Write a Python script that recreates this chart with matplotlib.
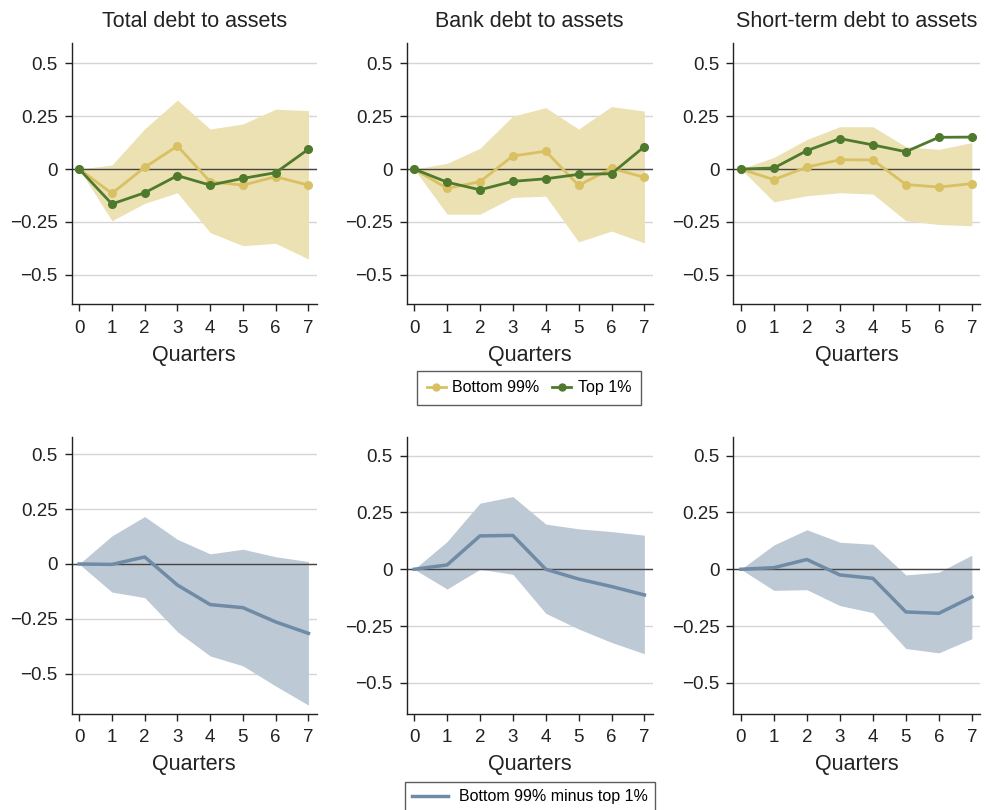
import matplotlib
matplotlib.use("Agg")
import matplotlib.pyplot as plt
from matplotlib.lines import Line2D

plt.rcParams['font.family'] = ['Liberation Sans', 'DejaVu Sans']

quarters = [0, 1, 2, 3, 4, 5, 6, 7]
titles = ["Total debt to assets", "Bank debt to assets", "Short-term debt to assets"]

# Top row: Bottom 99% / Top 1% with confidence band (of bottom 99%)
band_hi_top = [
    [0, 0.019, 0.190, 0.326, 0.189, 0.213, 0.283, 0.276],
    [0, 0.027, 0.098, 0.250, 0.290, 0.189, 0.295, 0.274],
    [0, 0.055, 0.140, 0.200, 0.200, 0.106, 0.093, 0.125],
]
band_lo_top = [
    [0, -0.244, -0.162, -0.112, -0.300, -0.362, -0.351, -0.425],
    [0, -0.213, -0.213, -0.134, -0.128, -0.344, -0.293, -0.349],
    [0, -0.155, -0.126, -0.112, -0.118, -0.244, -0.262, -0.268],
]
bottom99 = [
    [0, -0.115, 0.008, 0.109, -0.060, -0.076, -0.036, -0.076],
    [0, -0.091, -0.060, 0.062, 0.084, -0.077, 0.003, -0.039],
    [0, -0.050, 0.009, 0.044, 0.043, -0.073, -0.085, -0.069],
]
top1 = [
    [0, -0.165, -0.112, -0.031, -0.076, -0.044, -0.017, 0.094],
    [0, -0.062, -0.098, -0.058, -0.046, -0.025, -0.022, 0.106],
    [0, 0.005, 0.087, 0.144, 0.114, 0.082, 0.150, 0.151],
]

# Bottom row: difference with confidence band
diff = [
    [0, -0.002, 0.032, -0.096, -0.185, -0.199, -0.264, -0.316],
    [0, 0.019, 0.147, 0.149, 0.000, -0.043, -0.076, -0.113],
    [0, 0.007, 0.043, -0.025, -0.040, -0.188, -0.194, -0.122],
]
diff_hi = [
    [0, 0.128, 0.216, 0.112, 0.046, 0.067, 0.033, 0.011],
    [0, 0.122, 0.291, 0.320, 0.199, 0.178, 0.166, 0.150],
    [0, 0.107, 0.174, 0.119, 0.110, -0.025, -0.013, 0.062],
]
diff_lo = [
    [0, -0.128, -0.153, -0.309, -0.419, -0.464, -0.556, -0.643],
    [0, -0.087, 0.000, -0.022, -0.194, -0.263, -0.322, -0.372],
    [0, -0.093, -0.090, -0.160, -0.191, -0.349, -0.368, -0.306],
]

yticks = [0.5, 0.25, 0, -0.25, -0.5]
yticklabels = ["0.5", "0.25", "0", "\u22120.25", "\u22120.5"]

C_BAND = "#ECE1B2"
C_GOLD = "#D9C163"
C_GREEN = "#4F7A2E"
C_BAND2 = "#BDC9D5"
C_LINE2 = "#6F8BA6"

fig = plt.figure(figsize=(9.87, 8.10), dpi=100)

lefts = [0.0726, 0.412, 0.743]
widths = [0.2482, 0.2492, 0.250]
top_row = (0.6243, 0.3230)
bot_row = (0.1189, 0.3412)
top_ylim = (-0.639, 0.597)
bot_ylims = [(-0.682, 0.577), (-0.636, 0.581), (-0.636, 0.581)]


def style(ax, ylim):
    ax.set_xlim(-0.23, 7.25)
    ax.set_ylim(*ylim)
    ax.set_xticks(quarters)
    ax.set_xticklabels([str(q) for q in quarters])
    ax.set_yticks(yticks)
    ax.set_yticklabels(yticklabels)
    for s in ["top", "right"]:
        ax.spines[s].set_visible(False)
    for s in ["left", "bottom"]:
        ax.spines[s].set_color("#222222")
        ax.spines[s].set_linewidth(1.0)
    ax.tick_params(axis="both", direction="out", length=5, width=1.0,
                   color="#222222", labelsize=13.5, labelcolor="#222222")
    ax.tick_params(axis="x", pad=6)
    ax.tick_params(axis="y", pad=5)
    ax.yaxis.grid(True, color="#D5D5D5", linewidth=1.0)
    ax.set_axisbelow(True)
    ax.axhline(0, color="#444444", linewidth=1.0, zorder=2)
    ax.set_xlabel("Quarters", fontsize=15.5, color="#222222", labelpad=6)


for i in range(3):
    ax = fig.add_axes([lefts[i], top_row[0], widths[i], top_row[1]])
    ax.fill_between(quarters, band_lo_top[i], band_hi_top[i], color=C_BAND,
                    linewidth=0, zorder=1)
    ax.plot(quarters, bottom99[i], color=C_GOLD, lw=2.0, marker="o", ms=5.5, zorder=3)
    ax.plot(quarters, top1[i], color=C_GREEN, lw=2.0, marker="o", ms=5.5, zorder=4)
    style(ax, top_ylim)
    ax.set_title(titles[i], fontsize=15.5, color="#222222", pad=11)

    ax2 = fig.add_axes([lefts[i], bot_row[0], widths[i], bot_row[1]])
    ax2.fill_between(quarters, diff_lo[i], diff_hi[i], color=C_BAND2,
                     linewidth=0, zorder=1)
    ax2.plot(quarters, diff[i], color=C_LINE2, lw=2.5, zorder=3)
    style(ax2, bot_ylims[i])

h1 = [Line2D([], [], color=C_GOLD, lw=2.0, marker="o", ms=5),
      Line2D([], [], color=C_GREEN, lw=2.0, marker="o", ms=5)]
leg1 = fig.legend(h1, ["Bottom 99%", "Top 1%"], loc="center",
                  bbox_to_anchor=(529 / 987, 1 - 388 / 810), ncol=2, fontsize=11.5,
                  frameon=True, fancybox=False, edgecolor="#333333",
                  handlelength=1.2, columnspacing=0.8, handletextpad=0.4,
                  borderpad=0.6, borderaxespad=0)
leg1.get_frame().set_linewidth(1.0)

h2 = [Line2D([], [], color=C_LINE2, lw=2.5)]
leg2 = fig.legend(h2, ["Bottom 99% minus top 1%"], loc="upper center",
                  bbox_to_anchor=(530 / 987, 1 - 782 / 810), fontsize=11.5,
                  frameon=True, fancybox=False, edgecolor="#333333",
                  handlelength=2.2, handletextpad=0.7, borderpad=0.45,
                  borderaxespad=0)
leg2.get_frame().set_linewidth(1.0)

fig.savefig("out.png", dpi=100)
